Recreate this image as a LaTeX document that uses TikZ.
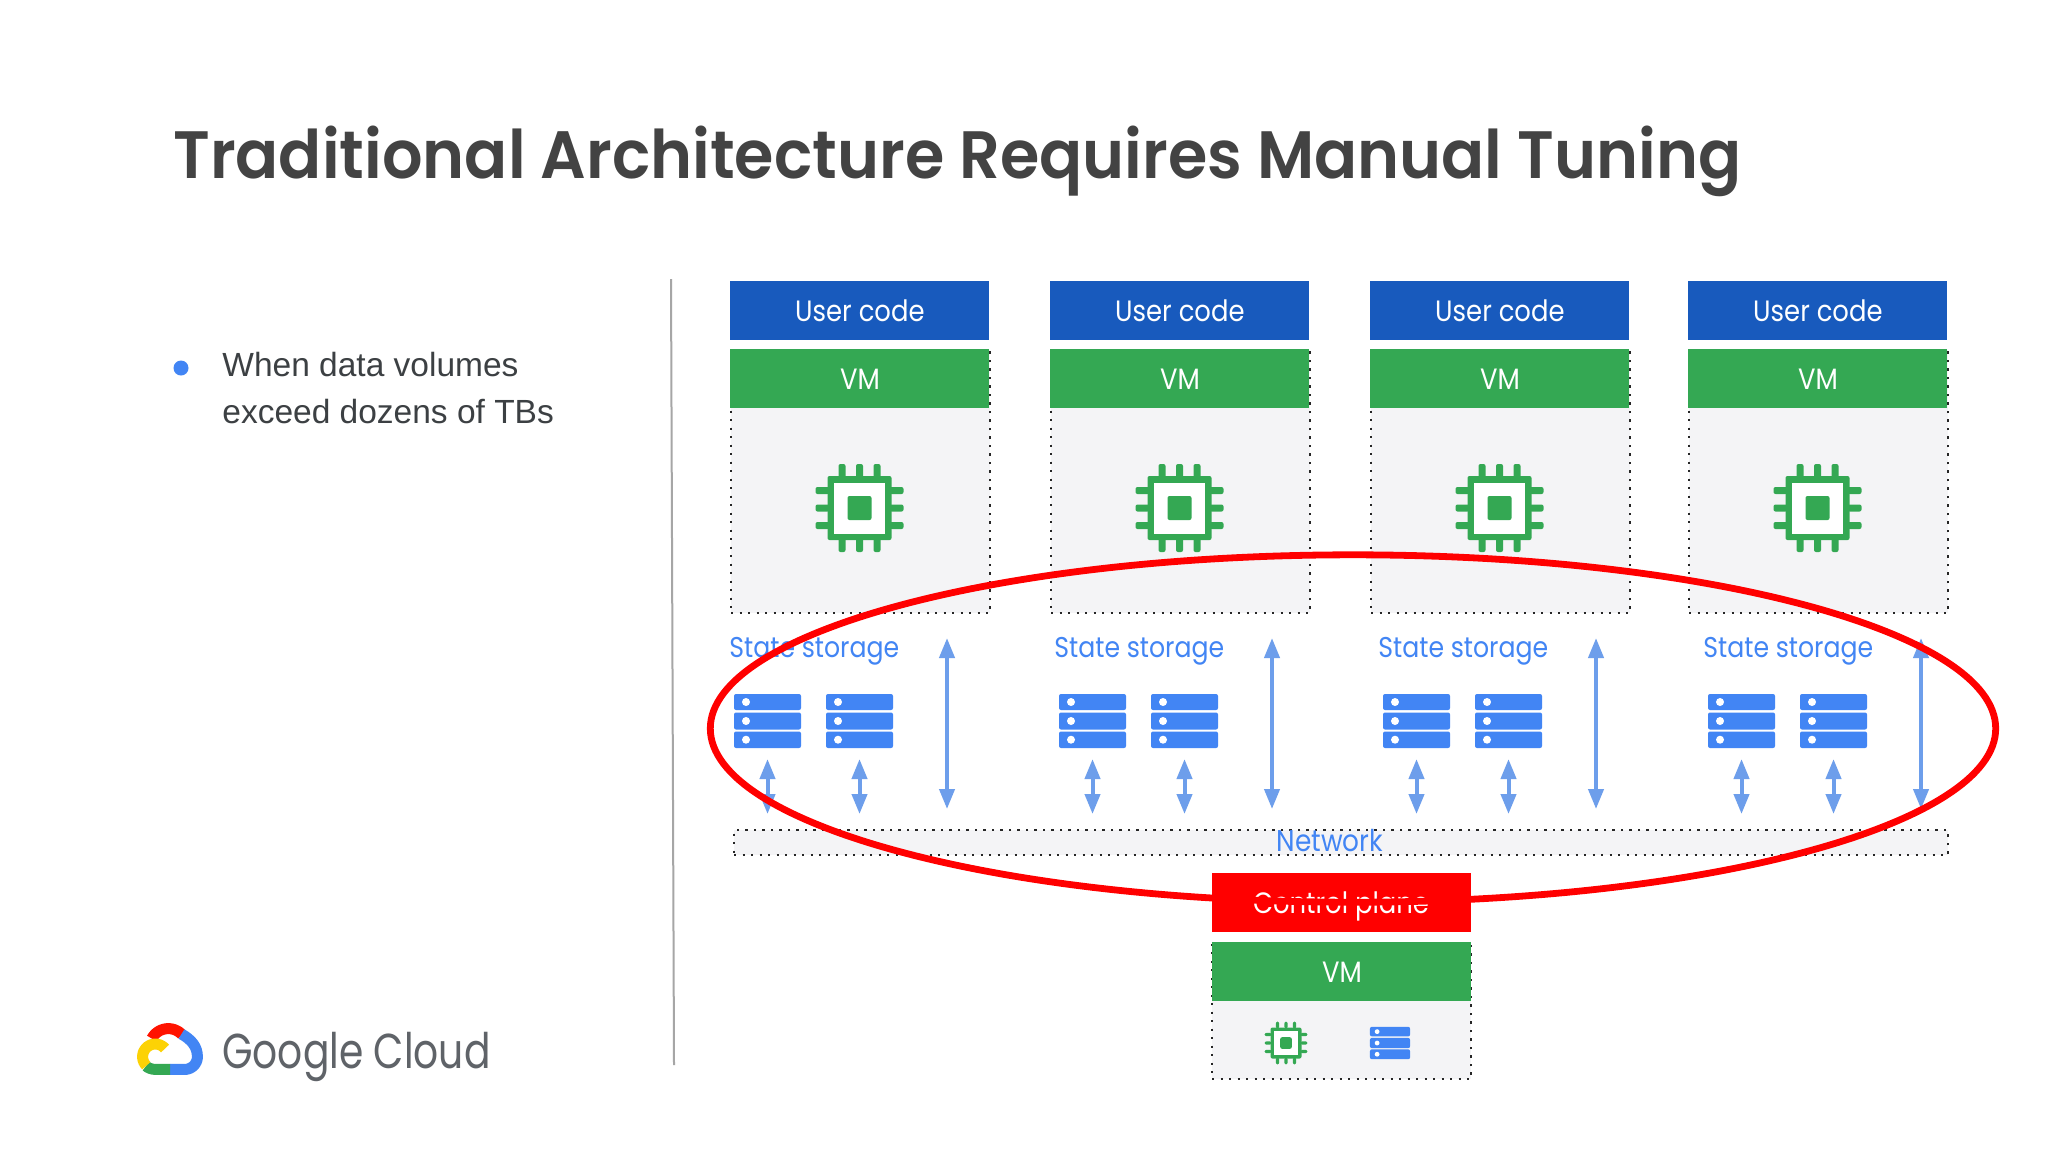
\documentclass[tikz,border=0pt]{standalone}
\usepackage{fontspec}
\setmainfont{Liberation Sans}
\newfontfamily\gsans{Poppins}[FakeStretch=0.88]
\newfontfamily\gtitle{Poppins SemiBold}[FakeStretch=0.95]
\newfontfamily\glogo{Poppins}[FakeStretch=0.8]
\usetikzlibrary{positioning,calc,arrows.meta,shapes.geometric}
\definecolor{usrblue}{HTML}{185ABD}
\definecolor{vmgreen}{HTML}{34A853}
\definecolor{srvblue}{HTML}{4285F4}
\definecolor{arrowblue}{HTML}{6D9EEB}
\definecolor{panel}{HTML}{F4F4F6}
\definecolor{ink}{HTML}{3C4043}
\definecolor{titleink}{HTML}{434343}
\definecolor{logoink}{HTML}{5F6368}
\tikzset{
  dotline/.style={draw=black!85,line width=1.1pt,dash pattern=on 1.1pt off 3.15pt},
  block/.style={anchor=north west,minimum width=129.5pt,minimum height=29.5pt,inner sep=0pt,text=white,font=\gsans\fontsize{14.7}{15}\selectfont},
  usercode/.style={block,fill=usrblue},
  vmhead/.style={block,fill=vmgreen},
  ctrlhead/.style={block,fill=red},
  vmbody/.style={anchor=north west,minimum width=129.5pt,fill=panel,dotline,inner sep=0pt},
  statelabel/.style={anchor=west,inner sep=0pt,text=srvblue,font=\gsans\fontsize{14.3}{15}\selectfont},
  biarrow/.style={draw=arrowblue,line width=2pt,{Triangle[width=7.5pt,length=10pt]}-{Triangle[width=7.5pt,length=10pt]}},
  chip/.pic={
    \foreach \p in {-17.5,0,17.5}{
      \fill[vmgreen,rounded corners=1pt] (\p-3.5,-44) rectangle (\p+3.5,-30);
      \fill[vmgreen,rounded corners=1pt] (\p-3.5,30) rectangle (\p+3.5,44);
      \fill[vmgreen,rounded corners=1pt] (-44,\p-3.5) rectangle (-30,\p+3.5);
      \fill[vmgreen,rounded corners=1pt] (30,\p-3.5) rectangle (44,\p+3.5);
    }
    \fill[vmgreen,rounded corners=1pt] (-32,-32) rectangle (32,32);
    \fill[white] (-25.5,-25.5) rectangle (25.5,25.5);
    \fill[vmgreen,rounded corners=1pt] (-12,-12) rectangle (12,12);
  },
  server/.pic={
    \fill[srvblue,rounded corners=1pt] (-33.5,-27) rectangle (33.5,-11);
    \fill[srvblue,rounded corners=1pt] (-33.5,-8.5) rectangle (33.5,8.5);
    \fill[srvblue,rounded corners=1pt] (-33.5,10.5) rectangle (33.5,27);
    \fill[white] (-21.5,-19) circle (4);
    \fill[white] (-21.5,0) circle (4);
    \fill[white] (-21.5,18.7) circle (4);
    \coordinate (-foot) at (0,27);
  },
}
% one worker: id, left edge of the VM, left edge of the storage group
\newcommand{\worker}[3]{
  \node[usercode] (user#1) at (#2,281) {User code};
  \node[vmbody,minimum height=131.5pt] (body#1) at (#2,349) {};
  \node[vmhead] (vm#1) at (#2,349) {VM};
  \pic at ({#2+129.5},508) {chip};
  \node[statelabel] (state#1) at ({#3-2},651) {State storage};
  \pic (sa#1) at ({#3+36.5},721) {server};
  \pic (sb#1) at ({#3+128.5},721) {server};
  \coordinate (up#1) at ({#3+216},638);
  \draw[biarrow,shorten <=5.5pt,shorten >=7.5pt] (sa#1-foot) -- (sa#1-foot |- network.north);
  \draw[biarrow,shorten <=5.5pt,shorten >=7.5pt] (sb#1-foot) -- (sb#1-foot |- network.north);
  \draw[biarrow,shorten >=10pt] (up#1) -- (up#1 |- network.north);
}
\begin{document}
\begin{tikzpicture}[x=0.5pt,y=-0.5pt]
  \useasboundingbox (0,0) rectangle (2048,1152);
  \fill[white] (0,0) rectangle (2048,1152);
  \node[anchor=west,inner sep=0pt,text=titleink,font=\gtitle\fontsize{33.5}{40}\selectfont] (title) at (173,161) {Traditional Architecture Requires Manual Tuning};

  \node[circle,fill=srvblue,minimum size=7.5pt,inner sep=0pt] (bullet) at (181,368) {};
  \node[anchor=north west,inner sep=0pt,text=ink,align=left,font=\fontsize{16.75}{23.5}\selectfont] (point) at (222,352) {When data volumes\\exceed dozens of TBs};

  \coordinate (ruletop) at (671,279);
  \coordinate (rulebot) at (674,1065);
  \draw[black!35,line width=1pt] (ruletop) -- (rulebot);

  % the network strip comes first, the workers point at it
  \node[anchor=north west,minimum width=607pt,minimum height=12.5pt,fill=panel,dotline,inner sep=0pt] (network) at (733,829) {};
  \node[inner sep=0pt,text=srvblue,font=\gsans\fontsize{15}{15}\selectfont] (nettext) at (1330,841) {Network};

  \worker{1}{730}{731}
  \worker{2}{1050}{1056}
  \worker{3}{1370}{1380}
  \worker{4}{1688}{1705}

  \node[ctrlhead] (ctrl) at (1212,873) {};
  \node[inner sep=0pt,text=white,font=\gsans\fontsize{14.7}{15}\selectfont] (ctrltext) at (1341,906) {Control plane};
  \node[vmbody,minimum height=68pt] (ctrlbody) at (1211,942) {};
  \node[vmhead] (ctrlvm) at (1212,942) {VM};
  \pic[scale=0.485] at (1286,1043) {chip};
  \pic[scale=0.6] at (1390,1043) {server};

  \node[ellipse,draw=red,line width=3.4pt,minimum width=642.7pt,minimum height=173.7pt,inner sep=0pt] (hotspot) at (1353,728.5) {};

  % logo
  \draw[red!85!orange,line width=5.5pt] plot[domain=43:152,samples=20,smooth] ({168.3+18.7*cos(\x)},{1047.3-18.7*sin(\x)});
  \draw[srvblue,line width=5.5pt] (181.5,1034) .. controls (192,1040) and (197.4,1047) .. (197.4,1056.7) -- plot[domain=0:-90,samples=12,smooth] ({184.7+12.7*cos(\x)},{1056.7-12.7*sin(\x)}) -- (170,1069.4);
  \draw[vmgreen,line width=5.5pt] (170,1069.4) -- (155.3,1069.4) .. controls (152,1069.4) and (148,1068) .. (146,1066);
  \draw[yellow!70!orange,line width=5.5pt] plot[domain=225:40,samples=20,smooth] ({155.3+12.7*cos(\x)},{1056.7-12.7*sin(\x)});
  \node[anchor=west,inner sep=0pt,text=logoink,font=\glogo\fontsize{24.5}{28}\selectfont] (logo) at (222,1056.5) {Google Cloud};
\end{tikzpicture}
\end{document}
